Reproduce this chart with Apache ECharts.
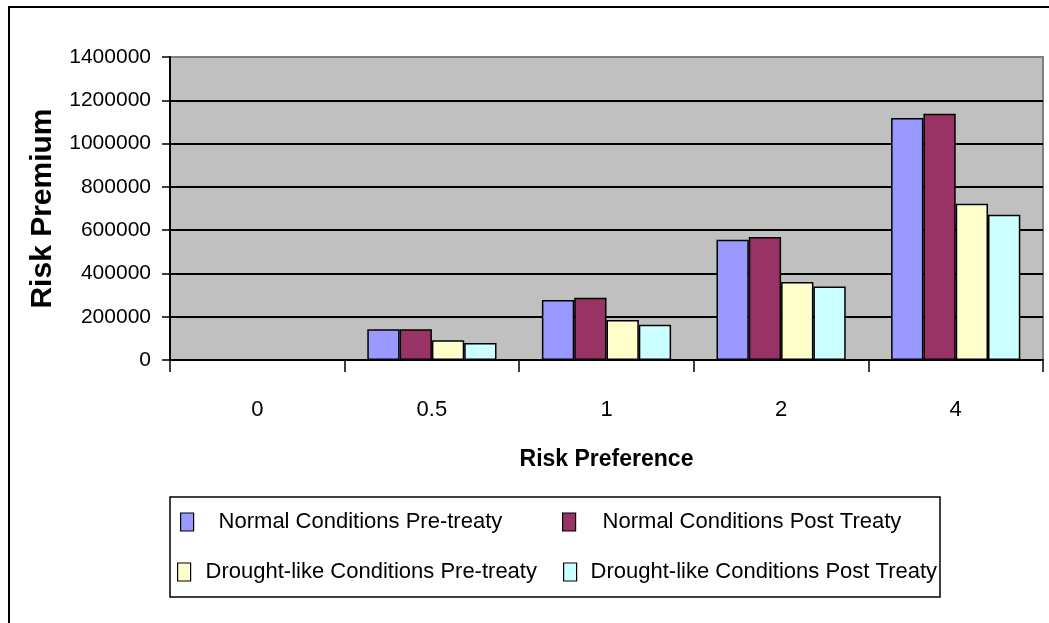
<!DOCTYPE html>
<html>
<head>
<meta charset="utf-8">
<script src="https://cdn.jsdelivr.net/npm/echarts@6/dist/echarts.min.js"></script>
<style>
html,body{margin:0;padding:0;background:#fff;}
#chart{width:1049px;height:623px;}
</style>
</head>
<body>
<div id="chart"></div>
<script>
const categories = ['0', '0.5', '1', '2', '4'];
const seriesNames = [
  'Normal Conditions Pre-treaty',
  'Normal Conditions Post Treaty',
  'Drought-like Conditions Pre-treaty',
  'Drought-like Conditions Post Treaty'
];
const normalPre = [0, 142000, 277000, 556000, 1118000];
const normalPost = [0, 142000, 288000, 568000, 1138000];
const droughtPre = [0, 91000, 185000, 360000, 722000];
const droughtPost = [0, 78000, 163000, 340000, 671000];
const yTicks = { min: 0, max: 1400000, interval: 200000 };

const colors = ['#9999FF', '#993366', '#FFFFCC', '#CCFFFF'];
const values = [normalPre, normalPost, droughtPre, droughtPost];
const SANS = '"Liberation Sans",Arial,sans-serif';

const chart = echarts.init(document.getElementById('chart'));

const legendPos = [
  { left: 180, top: 508, pad: 20 },
  { left: 562, top: 508, pad: 22 },
  { left: 177, top: 558, pad: 10 },
  { left: 563, top: 558, pad: 9 }
];

const option = {
  animation: false,
  backgroundColor: '#ffffff',
  graphic: [
    { type: 'rect', z: -1, shape: { x: 9, y: 7, width: 1100, height: 700 },
      style: { fill: 'none', stroke: '#000', lineWidth: 2 } },
    { type: 'rect', z: 0, shape: { x: 170, y: 497, width: 770, height: 100 },
      style: { fill: '#fff', stroke: '#000', lineWidth: 1.5 } }
  ],
  grid: {
    left: 170, top: 57, right: 6, bottom: 263,
    outerBoundsMode: 'none',
    containLabel: false,
    show: true, backgroundColor: '#C0C0C0', borderColor: '#808080', borderWidth: 2
  },
  legend: seriesNames.map((n, i) => ({
    data: [n],
    left: legendPos[i].left,
    top: legendPos[i].top,
    padding: 0,
    itemWidth: 13,
    itemHeight: 18,
    icon: 'rect',
    z: 5,
    itemStyle: { borderColor: '#000', borderWidth: 1.2 },
    textStyle: { fontFamily: SANS, fontSize: 22, color: '#000', padding: [0, 0, 0, legendPos[i].pad], lineHeight: 28 }
  })),
  xAxis: {
    type: 'category',
    data: categories,
    name: 'Risk Preference',
    nameLocation: 'middle',
    nameGap: 88,
    nameMoveOverlap: false,
    nameTextStyle: { fontFamily: SANS, fontWeight: 'bold', fontSize: 23, color: '#000' },
    axisLine: { lineStyle: { color: '#000', width: 2 } },
    axisTick: { show: true, length: 12, lineStyle: { color: '#000', width: 1.5 } },
    axisLabel: { fontFamily: SANS, fontSize: 22, color: '#000', margin: 39 },
    splitLine: { show: false }
  },
  yAxis: {
    type: 'value',
    min: yTicks.min, max: yTicks.max, interval: yTicks.interval,
    name: 'Risk Premium',
    nameLocation: 'middle',
    nameGap: 112,
    nameMoveOverlap: false,
    nameRotate: 90,
    nameTextStyle: { fontFamily: SANS, fontWeight: 'bold', fontSize: 30, color: '#000' },
    axisLine: { show: true, lineStyle: { color: '#000', width: 2 } },
    axisTick: { show: true, length: 8, lineStyle: { color: '#000', width: 1.5 } },
    axisLabel: { fontFamily: SANS, fontSize: 21, color: '#000', margin: 19, formatter: v => String(v) },
    splitLine: { show: true, showMaxLine: false, lineStyle: { color: '#000', width: 2 } }
  },
  series: seriesNames.map((n, i) => ({
    name: n,
    type: 'bar',
    data: values[i],
    barGap: '0%',
    barCategoryGap: '26%',
    itemStyle: { color: colors[i], borderColor: '#000', borderWidth: 1.5 }
  }))
};
chart.setOption(option);
</script>
</body>
</html>
